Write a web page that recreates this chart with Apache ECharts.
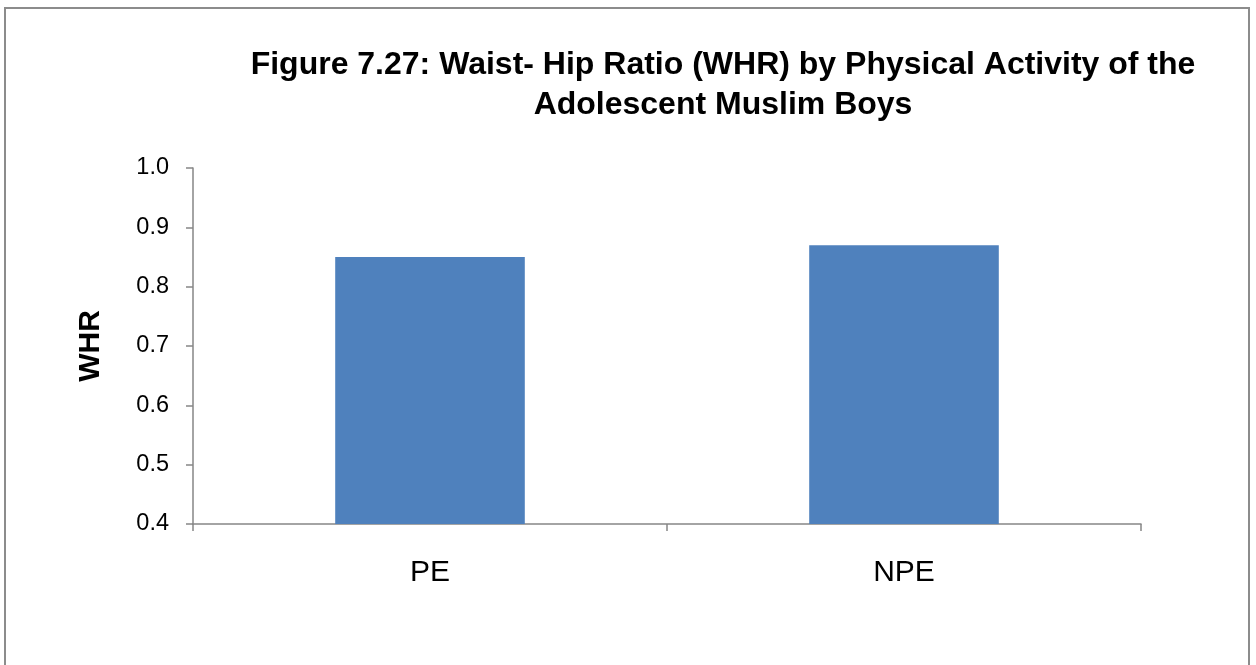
<!DOCTYPE html>
<html>
<head>
<meta charset="utf-8">
<script src="https://cdn.jsdelivr.net/npm/echarts@6/dist/echarts.min.js"></script>
<style>
  html, body { margin: 0; padding: 0; background: #fff; }
  #frame { position: absolute; left: 4px; top: 7px; width: 1246px; height: 700px; border: 2px solid #8c8c8c; box-sizing: border-box; }
  #chart { position: absolute; left: 0; top: 0; width: 1256px; height: 665px; }
</style>
</head>
<body>
<div id="frame"></div>
<div id="chart"></div>
<script>
// Waist-hip ratio by physical activity group
const categories = ['PE', 'NPE'];
const whrValues = [0.85, 0.87];
const yTicks = { min: 0.4, max: 1.0, interval: 0.1 };

const chart = echarts.init(document.getElementById('chart'), null, { renderer: 'canvas' });
const axisGray = '#868686';
const font = 'Liberation Sans, Arial, sans-serif';

chart.setOption({
  backgroundColor: 'transparent',
  animation: false,
  title: {
    text: 'Figure 7.27: Waist- Hip Ratio (WHR) by Physical Activity of the\nAdolescent Muslim Boys',
    left: 718,
    top: 40,
    textAlign: 'center',
    textStyle: {
      fontFamily: font,
      fontWeight: 'bold',
      fontSize: 32,
      lineHeight: 40,
      color: '#000'
    }
  },
  grid: { left: 193, right: 115, top: 168, bottom: 141, containLabel: false },
  xAxis: {
    type: 'category',
    data: categories,
    boundaryGap: true,
    axisLine: { lineStyle: { color: axisGray, width: 1.5 } },
    axisTick: { show: true, length: 7, alignWithLabel: false, lineStyle: { color: axisGray, width: 1.5 } },
    axisLabel: {
      margin: 34,
      fontFamily: font,
      fontSize: 30,
      color: '#000'
    },
    splitLine: { show: false }
  },
  yAxis: {
    type: 'value',
    min: yTicks.min,
    max: yTicks.max,
    interval: yTicks.interval,
    name: 'WHR',
    nameLocation: 'middle',
    nameGap: 87,
    nameRotate: 90,
    nameTextStyle: {
      fontFamily: font,
      fontWeight: 'bold',
      fontSize: 30,
      color: '#000'
    },
    axisLine: { show: true, lineStyle: { color: axisGray, width: 1.5 } },
    axisTick: { show: true, length: 7, lineStyle: { color: axisGray, width: 1.5 } },
    axisLabel: {
      margin: 24,
      formatter: v => v.toFixed(1),
      fontFamily: font,
      fontSize: 23.5,
      color: '#000'
    },
    splitLine: { show: false }
  },
  series: [{
    type: 'bar',
    data: whrValues,
    barWidth: '40%',
    itemStyle: { color: '#4F81BD' }
  }]
});
</script>
</body>
</html>
